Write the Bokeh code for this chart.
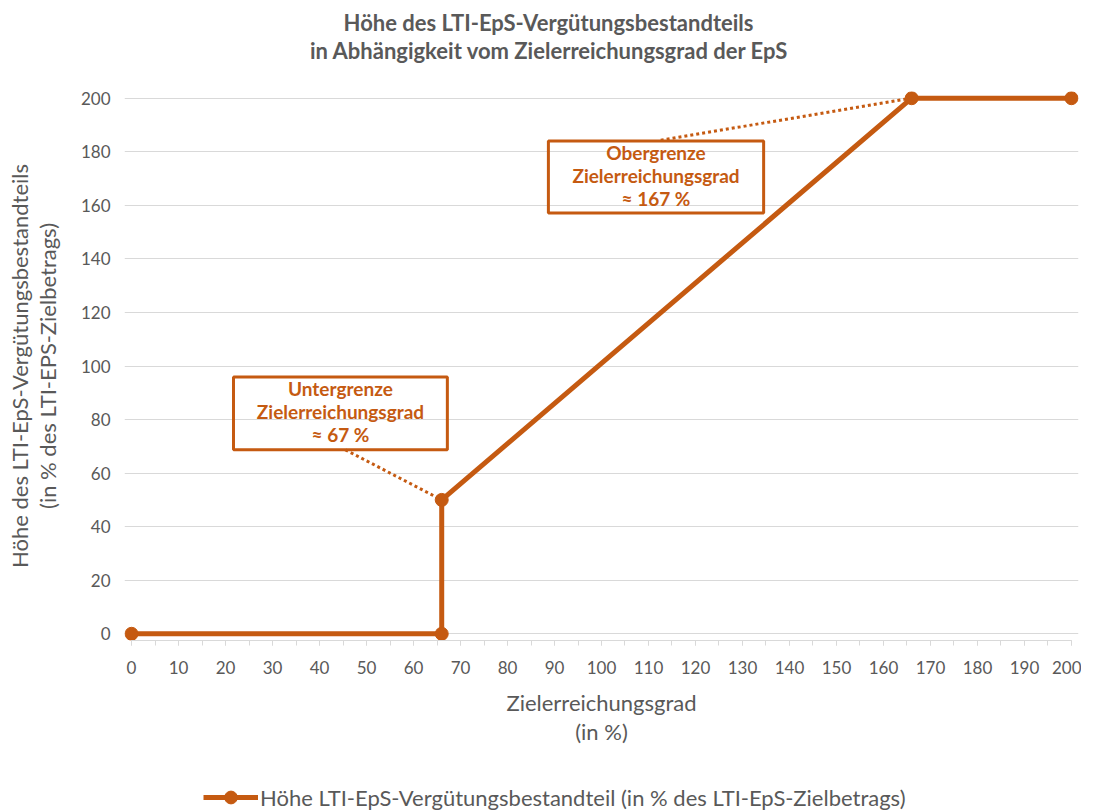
from bokeh.plotting import figure
from bokeh.models import Range1d, Label, Legend, LegendItem, FixedTicker, ColumnDataSource
from bokeh.layouts import column
from bokeh.core.properties import value
from bokeh.embed import file_html
from bokeh.resources import INLINE

# data
x_vals = [0, 66, 66, 166, 200]
y_vals = [0, 0, 50, 200, 200]
x_ticks = list(range(0, 201, 10))
x_minor = list(range(0, 201, 5))
y_ticks = list(range(0, 201, 20))

title_lines = ["Höhe des LTI-EpS-Vergütungsbestandteils",
               "in Abhängigkeit vom Zielerreichungsgrad der EpS"]
x_label = "Zielerreichungsgrad\n(in %)"
y_label = "Höhe des LTI-EpS-Vergütungsbestandteils\n(in % des LTI-EPS-Zielbetrags)"
legend_label = "Höhe LTI-EpS-Vergütungsbestandteil (in % des LTI-EpS-Zielbetrags)"

# annotation boxes (data coordinates)
ann_texts = ["Untergrenze\nZielerreichungsgrad\n≈ 67 %", "Obergrenze\nZielerreichungsgrad\n≈ 167 %"]
box_left = [21.7, 88.7]
box_right = [67.2, 134.5]
box_top = [95.9, 184.0]
box_bottom = [68.7, 157.1]
lead_x0 = [45.5, 112.6]
lead_y0 = [68.7, 184.3]
lead_x1 = [66, 166]
lead_y1 = [50, 200]

ORANGE = "#C55A11"
GRAY = "#595959"
FONT = "Lato"
W = 1081
FRAME_L, FRAME_R = 124, 1078   # pixel extent of the (aligned) plot frames

# ---------- title strip ----------
t = figure(width=W, height=75, output_backend="svg", toolbar_location=None,
           x_range=Range1d(FRAME_L, FRAME_R), y_range=Range1d(0, 75),
           min_border_left=FRAME_L, min_border_right=W - FRAME_R,
           min_border_top=0, min_border_bottom=0)
t.axis.visible = False
t.grid.visible = False
t.outline_line_color = None
t.text(x=[548, 549], y=[53, 25], text=title_lines, text_align="center",
       text_baseline="middle", text_font=value(FONT), text_font_size="22px",
       text_font_style="bold", text_color=GRAY)

# ---------- main chart ----------
p = figure(width=W, height=695, output_backend="svg", toolbar_location=None,
           x_range=Range1d(-1.5, 201.5), y_range=Range1d(-2.5, 202.5),
           min_border_left=FRAME_L, min_border_right=W - FRAME_R,
           min_border_top=16, min_border_bottom=130)
p.outline_line_color = None

p.xgrid.grid_line_color = None
p.ygrid.grid_line_color = "#D9D9D9"
p.ygrid.grid_line_width = 1

p.xaxis.ticker = FixedTicker(ticks=x_ticks, minor_ticks=x_minor)
p.xaxis.bounds = (0, 200)
p.xaxis.axis_line_color = "#D9D9D9"
p.xaxis.major_tick_line_color = "#D9D9D9"
p.xaxis.minor_tick_line_color = "#D9D9D9"
p.xaxis.major_tick_in = 0
p.xaxis.major_tick_out = 5
p.xaxis.minor_tick_in = 0
p.xaxis.minor_tick_out = 5
p.xaxis.major_label_standoff = 15
p.xaxis.major_label_text_font = FONT
p.xaxis.major_label_text_font_size = "17px"
p.xaxis.major_label_text_color = GRAY
p.xaxis.axis_label = x_label
p.xaxis.axis_label_text_font = FONT
p.xaxis.axis_label_text_font_size = "22px"
p.xaxis.axis_label_text_font_style = "normal"
p.xaxis.axis_label_text_color = GRAY
p.xaxis.axis_label_standoff = 12
p.xaxis.axis_label_text_line_height = 1.08

p.yaxis.ticker = FixedTicker(ticks=y_ticks)
p.yaxis.axis_line_color = None
p.yaxis.major_tick_line_color = None
p.yaxis.minor_tick_line_color = None
p.yaxis.major_tick_in = 0
p.yaxis.major_tick_out = 0
p.yaxis.major_label_standoff = 14
p.yaxis.major_label_text_font = FONT
p.yaxis.major_label_text_font_size = "17px"
p.yaxis.major_label_text_color = GRAY
p.yaxis.axis_label = y_label
p.yaxis.axis_label_text_font = FONT
p.yaxis.axis_label_text_font_size = "22px"
p.yaxis.axis_label_text_font_style = "normal"
p.yaxis.axis_label_text_color = GRAY
p.yaxis.axis_label_standoff = 17
p.yaxis.axis_label_text_line_height = 1.05

# leader lines
for i in range(2):
    p.line([lead_x0[i], lead_x1[i]], [lead_y0[i], lead_y1[i]], line_color=ORANGE,
           line_width=3, line_dash="3 3")

# boxes
p.quad(left=box_left, right=box_right, top=box_top, bottom=box_bottom,
       fill_color="white", fill_alpha=0.0, line_color=ORANGE, line_width=3)

for i in range(2):
    cx = (box_left[i] + box_right[i]) / 2
    cy = (box_top[i] + box_bottom[i]) / 2
    p.add_layout(Label(x=cx, y=cy, y_offset=2, text=ann_texts[i], text_align="center",
                       text_baseline="middle", text_font=FONT, text_font_size="19px",
                       text_font_style="bold", text_color=ORANGE, text_line_height=1.0))

src = ColumnDataSource(dict(x=x_vals, y=y_vals))
p.line("x", "y", source=src, line_color=ORANGE, line_width=5)
p.scatter("x", "y", source=src, size=13, fill_color=ORANGE, line_color=ORANGE)

# ---------- legend strip (series drawn out of view, only its legend shows) ----------
lg = figure(width=W, height=40, output_backend="svg", toolbar_location=None,
            x_range=Range1d(-1.5, 201.5), y_range=Range1d(-1000, -999),
            min_border_left=FRAME_L, min_border_right=W - FRAME_R,
            min_border_top=0, min_border_bottom=0)
lg.axis.visible = False
lg.grid.visible = False
lg.outline_line_color = None
l_ln = lg.line("x", "y", source=src, line_color=ORANGE, line_width=5)
l_sc = lg.scatter("x", "y", source=src, size=13, fill_color=ORANGE, line_color=ORANGE)
legend = Legend(items=[LegendItem(label=legend_label, renderers=[l_ln, l_sc])],
                location=(203 - FRAME_L, -3), orientation="horizontal",
                border_line_color=None, background_fill_alpha=0,
                label_text_font=FONT, label_text_font_size="22px", label_text_color=GRAY,
                glyph_width=55, glyph_height=32, label_standoff=2, padding=0, margin=0)
lg.add_layout(legend, "center")

layout = column(t, p, lg, spacing=0)
open("out.html", "w").write(file_html(layout, INLINE))
